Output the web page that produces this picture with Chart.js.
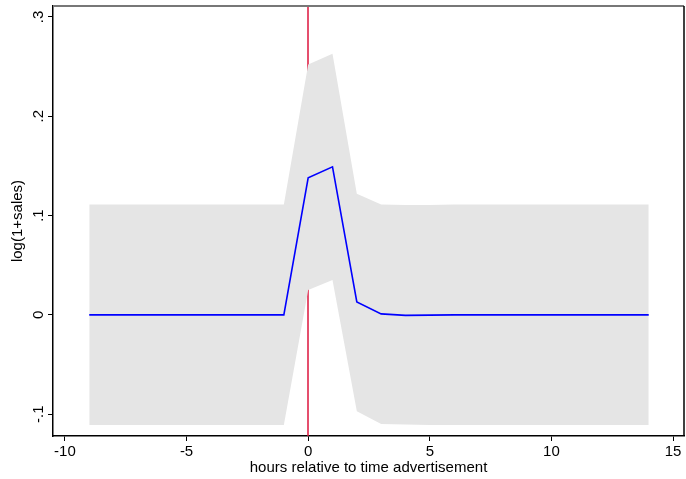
<!DOCTYPE html>
<html>
<head>
<meta charset="utf-8">
<script src="https://cdn.jsdelivr.net/npm/chart.js@4.4.0/dist/chart.umd.min.js"></script>
<style>
  html, body { margin: 0; padding: 0; background: #fff; }
  #wrap { width: 686px; height: 479px; }
</style>
</head>
<body>
<div id="wrap"><canvas id="canvas" width="686" height="479"></canvas></div>
<script>
// hours relative to the advertisement
const hours = [-9, -8, -7, -6, -5, -4, -3, -2, -1, 0, 1, 2, 3, 4, 5, 6, 7, 8, 9, 10, 11, 12, 13, 14];
// point estimate
const estimate = [0, 0, 0, 0, 0, 0, 0, 0, 0, 0.138, 0.149, 0.013, 0.001, -0.0005, -0.0003, 0, 0, 0, 0, 0, 0, 0, 0, 0];
// confidence band
const upper = [0.111, 0.111, 0.111, 0.111, 0.111, 0.111, 0.111, 0.111, 0.111, 0.252, 0.263, 0.122, 0.111, 0.1105, 0.1105, 0.111, 0.111, 0.111, 0.111, 0.111, 0.111, 0.111, 0.111, 0.111];
const lower = [-0.111, -0.111, -0.111, -0.111, -0.111, -0.111, -0.111, -0.111, -0.111, 0.025, 0.035, -0.097, -0.110, -0.1105, -0.111, -0.111, -0.111, -0.111, -0.111, -0.111, -0.111, -0.111, -0.111, -0.111];
const xTicks = [-10, -5, 0, 5, 10, 15];
const yTicks = [-0.1, 0, 0.1, 0.2, 0.3];
const eventHour = 0;

const FONT = '"Liberation Sans", Arial, sans-serif';

const pts = arr => hours.map((h, i) => ({ x: h, y: arr[i] }));
const fmtY = v => {
    if (Math.abs(v) < 1e-9) return '0';
    return (v < 0 ? '-' : '') + Math.abs(v).toFixed(1).replace(/^0/, '');
};

// red event line, frame edges and rotated y labels (stata style)
const frame = {
    id: 'frame',
    beforeDatasetsDraw(chart) {
        const { ctx, chartArea: a, scales } = chart;
        const px = Math.round(scales.x.getPixelForValue(eventHour));
        ctx.save();
        ctx.strokeStyle = '#dc143c';
        ctx.lineWidth = 1.5;
        ctx.beginPath();
        ctx.moveTo(px, a.top);
        ctx.lineTo(px, a.bottom);
        ctx.stroke();
        ctx.restore();
    },
    afterDraw(chart) {
        const { ctx, chartArea: a, scales } = chart;
        ctx.save();
        ctx.strokeStyle = '#777';
        ctx.lineWidth = 2;
        ctx.beginPath();
        ctx.moveTo(a.left, a.top);
        ctx.lineTo(a.right, a.top);
        ctx.stroke();
        ctx.strokeStyle = '#000';
        ctx.lineWidth = 1.5;
        ctx.beginPath();
        ctx.moveTo(a.right, a.top);
        ctx.lineTo(a.right, a.bottom);
        ctx.stroke();

        ctx.fillStyle = '#000';
        ctx.font = '15px ' + FONT;
        ctx.textAlign = 'center';
        ctx.textBaseline = 'middle';
        yTicks.forEach(v => {
            const py = scales.y.getPixelForValue(v);
            ctx.save();
            ctx.translate(39, py);
            ctx.rotate(-Math.PI / 2);
            ctx.fillText(fmtY(v), 0, 0);
            ctx.restore();
        });
        ctx.restore();
    }
};

Chart.defaults.font.family = FONT;
Chart.defaults.color = '#000';

new Chart(document.getElementById('canvas'), {
    type: 'line',
    data: {
        datasets: [{
            label: 'estimate',
            data: pts(estimate),
            borderColor: '#0000ff',
            borderWidth: 1.6,
            pointRadius: 0,
            fill: false,
            tension: 0
        },
        {
            label: 'upper',
            data: pts(upper),
            borderWidth: 0,
            borderColor: 'rgba(0,0,0,0)',
            backgroundColor: '#e5e5e5',
            pointRadius: 0,
            fill: '+1'
        },
        {
            label: 'lower',
            data: pts(lower),
            borderWidth: 0,
            borderColor: 'rgba(0,0,0,0)',
            pointRadius: 0,
            fill: false
        }]
    },
    options: {
        responsive: false,
        animation: false,
        layout: { padding: { left: 0, top: 6, right: 2, bottom: 0 } },
        plugins: {
            legend: { display: false },
            tooltip: { enabled: false }
        },
        scales: {
            x: {
                type: 'linear',
                min: -10.49,
                max: 15.45,
                afterBuildTicks: s => { s.ticks = xTicks.map(v => ({ value: v })); },
                afterFit: s => { s.height = 43; },
                grid: { display: true, drawOnChartArea: false, tickLength: 5, color: '#000' },
                border: { color: '#000', width: 1.5 },
                ticks: { font: { size: 15, lineHeight: 1 }, padding: 3, maxRotation: 0 },
                title: { display: true, text: 'hours relative to time advertisement', font: { size: 15 }, padding: { top: 0, bottom: 2 } }
            },
            y: {
                min: -0.122,
                max: 0.311,
                afterBuildTicks: s => { s.ticks = yTicks.map(v => ({ value: v })); },
                afterFit: s => { s.width = 53; },
                grid: { display: true, drawOnChartArea: false, tickLength: 5, color: '#000' },
                border: { color: '#000', width: 1.5 },
                ticks: { display: false },
                title: { display: true, text: 'log(1+sales)', font: { size: 15 }, padding: { top: 9, bottom: 0 } }
            }
        }
    },
    plugins: [frame]
});
</script>
</body>
</html>
